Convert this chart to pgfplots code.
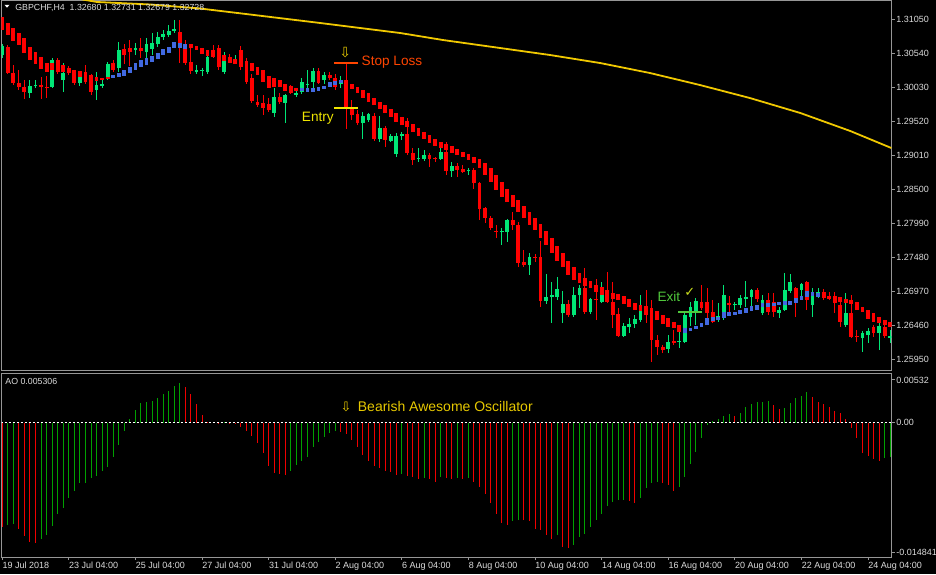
\documentclass[border=0pt]{standalone}
\usepackage{pgfplots}
\pgfplotsset{compat=1.18}
\usepackage{pgfplotstable}
\usepackage{fontspec}
\setmainfont{Liberation Sans}
\newfontfamily\dejavu{DejaVu Sans}
\definecolor{bull}{RGB}{0,230,118}
\definecolor{bear}{RGB}{255,0,0}
\definecolor{habull}{RGB}{65,105,225}
\definecolor{mayel}{RGB}{240,200,0}
\definecolor{aogreen}{RGB}{0,160,0}
\definecolor{aored}{RGB}{240,0,0}
\definecolor{framecol}{RGB}{150,150,150}
\definecolor{lbl}{RGB}{220,220,220}
\definecolor{slc}{RGB}{255,69,0}
\definecolor{entryc}{RGB}{240,230,0}
\definecolor{exitc}{RGB}{80,200,60}
\definecolor{goldc}{RGB}{230,200,0}
\definecolor{checkc}{RGB}{200,220,30}

\pgfplotstableread{
i o h l c
0 1.30510 1.30675 1.30465 1.30645
1 1.30630 1.30660 1.30225 1.30240
2 1.30240 1.30360 1.30060 1.30090
3 1.30090 1.30285 1.29985 1.30030
4 1.30030 1.30135 1.29850 1.29955
5 1.29940 1.30135 1.29865 1.30045
6 1.30045 1.30135 1.30015 1.30060
7 1.30060 1.30180 1.29850 1.30030
8 1.30030 1.30195 1.29865 1.30015
9 1.30030 1.30465 1.30015 1.30435
10 1.30435 1.30465 1.30225 1.30255
11 1.30135 1.30390 1.29955 1.30240
12 1.30270 1.30345 1.30210 1.30240
13 1.30240 1.30285 1.30060 1.30090
14 1.30090 1.30255 1.30045 1.30210
15 1.30240 1.30360 1.30075 1.30105
16 1.30150 1.30225 1.29910 1.29955
17 1.29985 1.30255 1.29835 1.30060
18 1.30045 1.30135 1.30015 1.30075
19 1.30165 1.30405 1.30135 1.30375
20 1.30390 1.30435 1.30255 1.30285
21 1.30315 1.30705 1.30255 1.30585
22 1.30600 1.30675 1.30375 1.30510
23 1.30615 1.30735 1.30345 1.30555
24 1.30585 1.30690 1.30510 1.30615
25 1.30615 1.30765 1.30465 1.30570
26 1.30555 1.30765 1.30465 1.30675
27 1.30600 1.30840 1.30510 1.30690
28 1.30675 1.30855 1.30630 1.30780
29 1.30780 1.30885 1.30735 1.30825
30 1.30810 1.30960 1.30780 1.30870
31 1.30870 1.31035 1.30840 1.30900
32 1.30855 1.31035 1.30390 1.30660
33 1.30675 1.30735 1.30360 1.30390
34 1.30405 1.30660 1.30225 1.30270
35 1.30255 1.30360 1.30225 1.30285
36 1.30270 1.30315 1.30195 1.30285
37 1.30255 1.30555 1.30225 1.30480
38 1.30585 1.30660 1.30465 1.30510
39 1.30615 1.30660 1.30285 1.30330
40 1.30255 1.30555 1.30225 1.30495
41 1.30465 1.30525 1.30405 1.30435
42 1.30405 1.30510 1.30375 1.30435
43 1.30585 1.30645 1.30285 1.30330
44 1.30405 1.30465 1.30075 1.30105
45 1.30165 1.30225 1.29790 1.29820
46 1.29805 1.29910 1.29730 1.29760
47 1.29790 1.29910 1.29610 1.29715
48 1.29775 1.29865 1.29655 1.29685
49 1.29640 1.30015 1.29580 1.29880
50 1.29880 1.29940 1.29775 1.29805
51 1.29790 1.29925 1.29490 1.29910
52 1.30015 1.30060 1.29925 1.29940
53 1.29910 1.29985 1.29880 1.29940
54 1.29955 1.30165 1.29925 1.30105
55 1.30060 1.30285 1.30015 1.30075
56 1.30105 1.30315 1.30015 1.30270
57 1.30270 1.30315 1.30075 1.30090
58 1.30135 1.30255 1.30075 1.30210
59 1.30210 1.30255 1.30135 1.30165
60 1.30165 1.30225 1.29985 1.30030
61 1.30075 1.30195 1.30015 1.30105
62 1.30090 1.30390 1.29400 1.29730
63 1.29715 1.29835 1.29535 1.29610
64 1.29625 1.29685 1.29460 1.29490
65 1.29490 1.29655 1.29250 1.29595
66 1.29535 1.29640 1.29505 1.29625
67 1.29595 1.29640 1.29220 1.29250
68 1.29250 1.29595 1.29205 1.29415
69 1.29415 1.29445 1.29130 1.29235
70 1.29220 1.29325 1.29205 1.29295
71 1.29025 1.29340 1.28980 1.29295
72 1.29295 1.29355 1.29235 1.29325
73 1.29325 1.29565 1.29010 1.29040
74 1.29040 1.29115 1.28860 1.28935
75 1.28950 1.29115 1.28905 1.28965
76 1.28950 1.29085 1.28920 1.29010
77 1.29010 1.29040 1.28830 1.28950
78 1.28965 1.28980 1.28905 1.28950
79 1.28950 1.29115 1.28935 1.29055
80 1.29055 1.29205 1.28710 1.28770
81 1.28770 1.28905 1.28680 1.28845
82 1.28845 1.28890 1.28680 1.28785
83 1.28800 1.28860 1.28740 1.28755
84 1.28770 1.28815 1.28710 1.28785
85 1.28785 1.28815 1.28500 1.28590
86 1.28590 1.28605 1.28035 1.28200
87 1.28215 1.28230 1.27990 1.28065
88 1.28065 1.28095 1.27885 1.27915
89 1.27870 1.27960 1.27765 1.27855
90 1.27855 1.27915 1.27660 1.27870
91 1.27855 1.28050 1.27705 1.28035
92 1.28035 1.28155 1.27885 1.27960
93 1.27960 1.28005 1.27330 1.27390
94 1.27405 1.27585 1.27330 1.27360
95 1.27360 1.27540 1.27210 1.27480
96 1.27480 1.27525 1.27405 1.27465
97 1.27480 1.27720 1.26730 1.26820
98 1.26820 1.27225 1.26775 1.26880
99 1.26880 1.27105 1.26490 1.26910
100 1.26880 1.27180 1.26835 1.27000
101 1.26640 1.26970 1.26490 1.26775
102 1.26775 1.26835 1.26580 1.26610
103 1.26610 1.27030 1.26580 1.26910
104 1.26910 1.27060 1.26715 1.27015
105 1.27015 1.27315 1.26625 1.26655
106 1.26655 1.26865 1.26625 1.26850
107 1.26850 1.27150 1.26535 1.26835
108 1.26805 1.27105 1.26790 1.26940
109 1.26985 1.27255 1.26790 1.26805
110 1.26805 1.27105 1.26415 1.26610
111 1.26625 1.26715 1.26280 1.26295
112 1.26295 1.26490 1.26280 1.26445
113 1.26430 1.26565 1.26340 1.26475
114 1.26475 1.26610 1.26415 1.26550
115 1.26535 1.26910 1.26505 1.26730
116 1.26745 1.26985 1.26490 1.26610
117 1.26685 1.26835 1.25905 1.26235
118 1.26235 1.26310 1.26010 1.26130
119 1.26130 1.26160 1.26040 1.26085
120 1.26100 1.26310 1.26040 1.26205
121 1.26220 1.26385 1.26160 1.26190
122 1.26220 1.26385 1.26115 1.26225
123 1.26205 1.26640 1.26190 1.26610
124 1.26580 1.26805 1.26445 1.26730
125 1.26670 1.26865 1.26460 1.26820
126 1.26805 1.27060 1.26685 1.26715
127 1.26805 1.27015 1.26565 1.26640
128 1.26655 1.26835 1.26490 1.26505
129 1.26535 1.26790 1.26505 1.26595
130 1.26565 1.27060 1.26535 1.26910
131 1.26790 1.26895 1.26640 1.26760
132 1.26760 1.26805 1.26685 1.26775
133 1.26760 1.26910 1.26715 1.26865
134 1.26850 1.27120 1.26730 1.26880
135 1.26880 1.27000 1.26715 1.26985
136 1.26985 1.27015 1.26805 1.26850
137 1.26640 1.26910 1.26610 1.26835
138 1.26835 1.26940 1.26610 1.26655
139 1.26805 1.26940 1.26580 1.26655
140 1.26640 1.26730 1.26565 1.26685
141 1.26685 1.27240 1.26670 1.26985
142 1.26970 1.27225 1.26940 1.27105
143 1.27015 1.27030 1.26580 1.26865
144 1.26985 1.27090 1.26835 1.27075
145 1.27105 1.27120 1.26685 1.26835
146 1.26760 1.27015 1.26580 1.26895
147 1.26880 1.27015 1.26865 1.26955
148 1.26955 1.27000 1.26835 1.26865
149 1.26895 1.26955 1.26835 1.26850
150 1.26895 1.26955 1.26640 1.26790
151 1.26760 1.26835 1.26430 1.26505
152 1.26460 1.26940 1.26430 1.26640
153 1.26640 1.26910 1.26265 1.26280
154 1.26295 1.26385 1.26205 1.26280
155 1.26265 1.26370 1.26055 1.26340
156 1.26310 1.26415 1.26190 1.26370
157 1.26430 1.26460 1.26280 1.26340
158 1.26340 1.26565 1.26085 1.26445
159 1.26430 1.26460 1.26265 1.26295
160 1.26265 1.26385 1.26190 1.26295
}\candles

\pgfplotstableread{
i t b u
0 1.31080 1.30885 0
1 1.30990 1.30810 0
2 1.30915 1.30720 0
3 1.30840 1.30660 0
4 1.30765 1.30540 0
5 1.30630 1.30435 0
6 1.30555 1.30375 0
7 1.30480 1.30300 0
8 1.30390 1.30255 0
9 1.30390 1.30285 0
10 1.30405 1.30270 0
11 1.30360 1.30255 0
12 1.30315 1.30240 0
13 1.30285 1.30210 0
14 1.30270 1.30180 0
15 1.30255 1.30165 0
16 1.30210 1.30135 0
17 1.30180 1.30120 0
18 1.30165 1.30135 0
19 1.30180 1.30150 0
20 1.30210 1.30165 1
21 1.30240 1.30180 1
22 1.30285 1.30195 1
23 1.30330 1.30240 1
24 1.30390 1.30285 1
25 1.30435 1.30330 1
26 1.30465 1.30360 1
27 1.30495 1.30405 1
28 1.30540 1.30450 1
29 1.30600 1.30510 1
30 1.30630 1.30540 1
31 1.30705 1.30615 1
32 1.30690 1.30615 1
33 1.30675 1.30600 1
34 1.30675 1.30615 0
35 1.30645 1.30585 0
36 1.30615 1.30525 0
37 1.30585 1.30495 0
38 1.30570 1.30480 0
39 1.30540 1.30450 0
40 1.30510 1.30420 0
41 1.30480 1.30390 0
42 1.30450 1.30375 0
43 1.30435 1.30360 0
44 1.30420 1.30315 0
45 1.30390 1.30270 0
46 1.30330 1.30210 0
47 1.30285 1.30105 0
48 1.30195 1.30015 0
49 1.30165 1.30030 0
50 1.30135 1.30030 0
51 1.30075 1.29970 0
52 1.30045 1.29985 0
53 1.30015 1.29970 0
54 1.30015 1.29970 1
55 1.30015 1.29955 1
56 1.30015 1.29955 1
57 1.30030 1.29970 1
58 1.30045 1.30000 1
59 1.30105 1.30030 1
60 1.30120 1.30060 1
61 1.30135 1.30090 1
62 1.30135 1.30060 0
63 1.30075 1.30000 0
64 1.30030 1.29940 0
65 1.29985 1.29865 0
66 1.29940 1.29805 0
67 1.29865 1.29760 0
68 1.29805 1.29700 0
69 1.29760 1.29640 0
70 1.29700 1.29580 0
71 1.29640 1.29505 0
72 1.29580 1.29460 0
73 1.29520 1.29430 0
74 1.29475 1.29355 0
75 1.29415 1.29295 0
76 1.29355 1.29250 0
77 1.29310 1.29190 0
78 1.29250 1.29145 0
79 1.29205 1.29115 0
80 1.29175 1.29085 0
81 1.29145 1.29040 0
82 1.29100 1.29010 0
83 1.29055 1.28980 0
84 1.29025 1.28935 0
85 1.28980 1.28890 0
86 1.28950 1.28815 0
87 1.28890 1.28710 0
88 1.28815 1.28605 0
89 1.28710 1.28485 0
90 1.28605 1.28380 0
91 1.28500 1.28305 0
92 1.28410 1.28230 0
93 1.28335 1.28155 0
94 1.28245 1.28065 0
95 1.28155 1.27960 0
96 1.28065 1.27885 0
97 1.27975 1.27765 0
98 1.27870 1.27660 0
99 1.27765 1.27540 0
100 1.27645 1.27420 0
101 1.27540 1.27330 0
102 1.27420 1.27210 0
103 1.27330 1.27135 0
104 1.27240 1.27090 0
105 1.27165 1.27045 0
106 1.27120 1.27015 0
107 1.27060 1.26955 0
108 1.27030 1.26910 0
109 1.26985 1.26835 0
110 1.26940 1.26850 0
111 1.26925 1.26835 0
112 1.26895 1.26775 0
113 1.26850 1.26730 0
114 1.26790 1.26685 0
115 1.26760 1.26670 0
116 1.26745 1.26610 0
117 1.26715 1.26595 0
118 1.26670 1.26535 0
119 1.26610 1.26475 0
120 1.26565 1.26430 0
121 1.26505 1.26415 0
122 1.26460 1.26355 0
123 1.26415 1.26340 1
124 1.26415 1.26370 1
125 1.26445 1.26400 1
126 1.26490 1.26430 1
127 1.26565 1.26460 1
128 1.26580 1.26520 1
129 1.26580 1.26535 1
130 1.26655 1.26565 1
131 1.26655 1.26595 1
132 1.26655 1.26610 1
133 1.26685 1.26625 1
134 1.26715 1.26640 1
135 1.26745 1.26670 1
136 1.26760 1.26685 1
137 1.26790 1.26730 1
138 1.26790 1.26730 1
139 1.26790 1.26745 1
140 1.26805 1.26760 1
141 1.26820 1.26760 1
142 1.26820 1.26760 1
143 1.26865 1.26790 1
144 1.26895 1.26835 1
145 1.26970 1.26880 1
146 1.26955 1.26895 1
147 1.26940 1.26880 1
148 1.26955 1.26865 0
149 1.26895 1.26850 0
150 1.26895 1.26805 0
151 1.26880 1.26805 0
152 1.26850 1.26790 0
153 1.26835 1.26775 0
154 1.26805 1.26685 0
155 1.26730 1.26655 0
156 1.26685 1.26550 0
157 1.26640 1.26505 0
158 1.26580 1.26490 0
159 1.26535 1.26460 0
160 1.26505 1.26430 0
}\ha

\pgfplotstableread{
i v g
0 -0.01161 0
1 -0.01142 1
2 -0.01136 1
3 -0.01186 0
4 -0.01264 0
5 -0.01328 0
6 -0.01337 0
7 -0.01301 1
8 -0.01253 1
9 -0.01150 1
10 -0.01019 1
11 -0.00949 1
12 -0.00844 1
13 -0.00760 1
14 -0.00677 1
15 -0.00671 1
16 -0.00615 1
17 -0.00596 1
18 -0.00537 1
19 -0.00492 1
20 -0.00388 1
21 -0.00251 1
22 -0.00095 1
23 0.00036 1
24 0.00139 1
25 0.00214 1
26 0.00225 1
27 0.00240 1
28 0.00276 1
29 0.00317 1
30 0.00351 1
31 0.00407 1
32 0.00437 1
33 0.00392 0
34 0.00317 0
35 0.00206 0
36 0.00084 0
37 0.00011 0
38 0.00003 0
39 -0.00001 0
40 0.00002 1
41 -0.00006 0
42 -0.00020 0
43 -0.00047 0
44 -0.00095 0
45 -0.00150 0
46 -0.00225 0
47 -0.00336 0
48 -0.00485 0
49 -0.00559 0
50 -0.00574 0
51 -0.00585 0
52 -0.00537 1
53 -0.00473 1
54 -0.00426 1
55 -0.00388 1
56 -0.00276 1
57 -0.00221 1
58 -0.00158 1
59 -0.00114 1
60 -0.00095 1
61 -0.00102 0
62 -0.00131 0
63 -0.00195 0
64 -0.00270 0
65 -0.00362 0
66 -0.00426 0
67 -0.00485 0
68 -0.00510 0
69 -0.00537 0
70 -0.00548 0
71 -0.00585 0
72 -0.00579 1
73 -0.00596 0
74 -0.00610 0
75 -0.00629 0
76 -0.00622 1
77 -0.00633 0
78 -0.00659 0
79 -0.00610 1
80 -0.00622 0
81 -0.00629 0
82 -0.00618 1
83 -0.00633 0
84 -0.00618 1
85 -0.00659 0
86 -0.00715 0
87 -0.00797 0
88 -0.00900 0
89 -0.01019 0
90 -0.01123 0
91 -0.01142 0
92 -0.01094 1
93 -0.01086 1
94 -0.01089 0
95 -0.01094 0
96 -0.01190 0
97 -0.01198 0
98 -0.01253 0
99 -0.01301 0
100 -0.01253 1
101 -0.01384 0
102 -0.01395 0
103 -0.01365 1
104 -0.01279 1
105 -0.01242 1
106 -0.01161 1
107 -0.01086 1
108 -0.01019 1
109 -0.00930 1
110 -0.00882 1
111 -0.00863 1
112 -0.00861 1
113 -0.00871 0
114 -0.00900 0
115 -0.00838 1
116 -0.00726 1
117 -0.00671 1
118 -0.00659 1
119 -0.00671 0
120 -0.00696 0
121 -0.00760 0
122 -0.00715 1
123 -0.00604 1
124 -0.00462 1
125 -0.00325 1
126 -0.00176 1
127 -0.00028 1
128 0.00020 1
129 0.00039 1
130 0.00076 1
131 0.00091 1
132 0.00072 0
133 0.00109 1
134 0.00176 1
135 0.00203 1
136 0.00225 1
137 0.00232 1
138 0.00234 1
139 0.00195 0
140 0.00150 0
141 0.00165 1
142 0.00214 1
143 0.00270 1
144 0.00299 1
145 0.00343 1
146 0.00287 0
147 0.00225 0
148 0.00203 0
149 0.00176 0
150 0.00131 0
151 0.00109 0
152 0.00036 0
153 -0.00058 0
154 -0.00169 0
155 -0.00343 0
156 -0.00373 0
157 -0.00410 0
158 -0.00426 0
159 -0.00399 1
160 -0.00381 1
}\ao

\begin{document}
\begin{tikzpicture}
\fill[black] (0,0) rectangle (468pt,287pt);

% ---------------- main price panel ----------------
\begin{axis}[
  at={(0.75pt,101.75pt)}, anchor=south west,
  scale only axis, width=445pt, height=185pt,
  xmin=-0.126, xmax=160.23, ymin=1.257775, ymax=1.313275,
  axis line style={draw=framecol, line width=0.5pt},
  xtick=\empty,
  ytick={1.25950,1.26460,1.26970,1.27480,1.27990,1.28500,1.29010,1.29520,1.30030,1.30540,1.31050},
  yticklabels={1.25950,1.26460,1.26970,1.27480,1.27990,1.28500,1.29010,1.29520,1.30030,1.30540,1.31050},
  ytick pos=right, yticklabel pos=right,
  tick align=outside, major tick length=1.5pt,
  tick style={draw=framecol, line width=0.5pt},
  yticklabel style={font=\fontsize{4.5}{5}\selectfont, text=lbl, inner sep=0pt, xshift=0.75pt},
  scaled y ticks=false,
  clip=true,
]
% regular candles: wicks (high to low) then bodies (open to close)
\addplot[bull, line width=0.5pt, forget plot, quiver={u=0, v={\thisrow{l}-\thisrow{h}}}]
  table[x expr={\thisrow{c}>\thisrow{o} ? \thisrow{i} : nan}, y=h]{\candles};
\addplot[bear, line width=0.5pt, forget plot, quiver={u=0, v={\thisrow{l}-\thisrow{h}}}]
  table[x expr={\thisrow{c}<\thisrow{o} ? \thisrow{i} : nan}, y=h]{\candles};
\addplot[bull, line width=1.9pt, forget plot, quiver={u=0, v={\thisrow{c}-\thisrow{o}}}]
  table[x expr={\thisrow{c}>\thisrow{o} ? \thisrow{i} : nan}, y=o]{\candles};
\addplot[bear, line width=1.9pt, forget plot, quiver={u=0, v={\thisrow{c}-\thisrow{o}}}]
  table[x expr={\thisrow{c}<\thisrow{o} ? \thisrow{i} : nan}, y=o]{\candles};
% smoothed Heiken Ashi overlay
\addplot[bear, line width=1.9pt, forget plot, quiver={u=0, v={\thisrow{b}-\thisrow{t}}}]
  table[x expr={\thisrow{u}<0.5 ? \thisrow{i} : nan}, y=t]{\ha};
\addplot[habull, line width=1.9pt, forget plot, quiver={u=0, v={\thisrow{b}-\thisrow{t}}}]
  table[x expr={\thisrow{u}>0.5 ? \thisrow{i} : nan}, y=t]{\ha};
% moving average
\addplot[mayel, line width=0.9pt] coordinates {
(14,1.31350) (17.1,1.31305) (26.6,1.31268) (35.6,1.31208) (44.6,1.31118)
(57.3,1.30990) (71.7,1.30840) (79.4,1.30735) (89.7,1.30615) (98.7,1.30510)
(107.7,1.30390) (116.7,1.30240) (125.7,1.30060) (134.7,1.29865) (143.8,1.29640)
(152.8,1.29370) (160.2,1.29115)};
% trade markers
\addplot[slc, line width=1pt] coordinates {(59.8,1.30395) (64.1,1.30395)};
\addplot[entryc, line width=1pt] coordinates {(59.8,1.29720) (64.1,1.29720)};
\addplot[exitc, line width=1pt] coordinates {(121.8,1.26655) (126.1,1.26655)};
\node[anchor=west, text=slc, font=\fontsize{6.8}{8}\selectfont, inner sep=0pt] at (axis cs:64.7,1.30405) {Stop Loss};
\node[text=goldc, font=\dejavu\fontsize{7}{8}\selectfont, inner sep=0pt] at (axis cs:61.8,1.30540) {⇩};
\node[anchor=east, text=entryc, font=\fontsize{6.8}{8}\selectfont, inner sep=0pt] at (axis cs:59.8,1.29565) {Entry};
\node[anchor=west, text=exitc, font=\fontsize{6.8}{8}\selectfont, inner sep=0pt] at (axis cs:118,1.26880) {Exit};
\node[text=checkc, font=\dejavu\fontsize{6.5}{7}\selectfont, inner sep=0pt] at (axis cs:123.9,1.26950) {✓};
\end{axis}

% ---------------- AO panel ----------------
\begin{axis}[
  at={(0.75pt,8.5pt)}, anchor=south west,
  scale only axis, width=445pt, height=91.75pt,
  xmin=-0.126, xmax=160.23, ymin=-0.014983, ymax=0.005459,
  axis line style={draw=framecol, line width=0.5pt},
  xtick={0,12,...,156},
  xticklabels={19 Jul 2018,23 Jul 04:00,25 Jul 04:00,27 Jul 04:00,31 Jul 04:00,2 Aug 04:00,6 Aug 04:00,8 Aug 04:00,10 Aug 04:00,14 Aug 04:00,16 Aug 04:00,20 Aug 04:00,22 Aug 04:00,24 Aug 04:00},
  xtick pos=bottom, xticklabel pos=bottom,
  xticklabel style={anchor=north west, font=\fontsize{4.5}{5}\selectfont, text=lbl, inner sep=0pt, xshift=0pt, yshift=-1pt},
  ytick={-0.014426,0,0.004735},
  yticklabels={-0.014841,0.00,0.00532},
  ytick pos=right, yticklabel pos=right,
  yticklabel style={font=\fontsize{4.5}{5}\selectfont, text=lbl, inner sep=0pt, xshift=0.75pt},
  tick align=outside, major tick length=1.5pt,
  tick style={draw=framecol, line width=0.5pt},
  scaled y ticks=false,
  clip=true,
]
\addplot[aogreen, ycomb, line width=0.5pt] table[x expr={\thisrow{g}>0.5 ? \thisrow{i} : nan}, y=v]{\ao};
\addplot[aored, ycomb, line width=0.5pt] table[x expr={\thisrow{g}<0.5 ? \thisrow{i} : nan}, y=v]{\ao};
\addplot[white, line width=0.5pt, dash pattern=on 1pt off 1pt] coordinates {(-1,0) (161,0)};
\node[anchor=west, text=goldc, font=\fontsize{7}{8}\selectfont, inner sep=0pt] at (axis cs:60.9,0.00173) {{\dejavu\fontsize{6.5}{7}\selectfont ⇩}\hspace{3.2pt}Bearish Awesome Oscillator};
\end{axis}

% panel captions
\fill[white] (2.2pt,284.6pt) -- (4.8pt,284.6pt) -- (3.5pt,283.2pt) -- cycle;
\node[anchor=west, inner sep=0pt, text=lbl, font=\fontsize{4.4}{5}\selectfont] at (7.5pt,283pt) {GBPCHF,H4\ \ 1.32680 1.32731 1.32679 1.32728};
\node[anchor=west, inner sep=0pt, text=lbl, font=\fontsize{4.4}{5}\selectfont] at (2.5pt,96.5pt) {AO 0.005306};

\pgfresetboundingbox
\useasboundingbox (0,0) rectangle (468pt,287pt);
\end{tikzpicture}
\end{document}
